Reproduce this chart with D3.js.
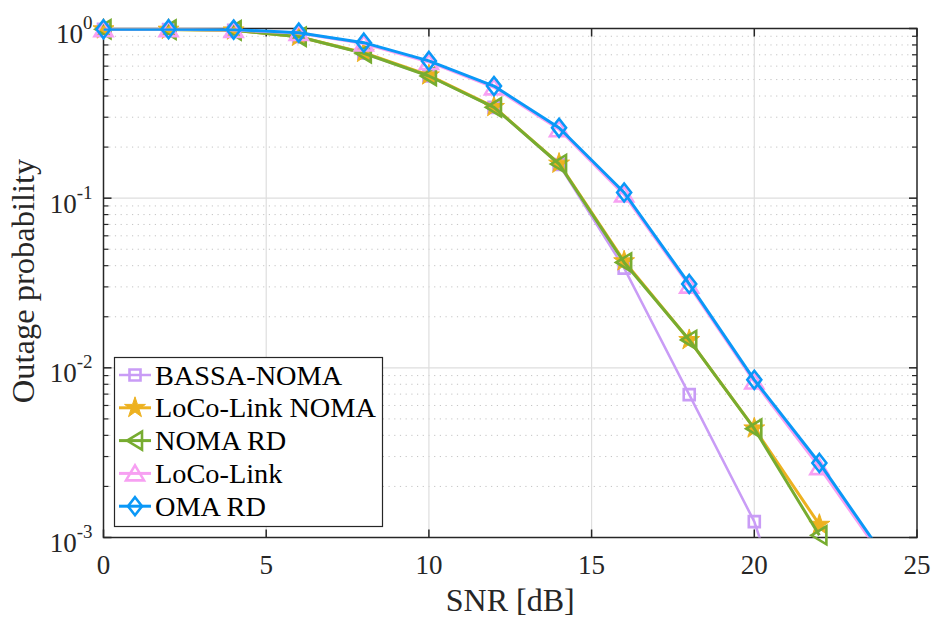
<!DOCTYPE html>
<html><head><meta charset="utf-8">
<script src="https://cdn.jsdelivr.net/npm/d3@7"></script>
<style>body{margin:0;background:#fff}svg{display:block}</style>
</head><body>
<svg id="c" width="933" height="617"></svg>
<script>
const snr = [0,2,4,6,8,10,12,14,16,18,20,22,24];
const bassaNoma   = [0.99,0.985,0.975,0.895,0.715,0.525,0.343,0.158,0.0387,0.00695,0.00124,0.000085,null];
const locoNoma    = [0.99,0.985,0.975,0.895,0.72,0.53,0.345,0.16,0.0425,0.0146,0.0044,0.00119,null];
const nomaRd      = [0.99,0.985,0.975,0.895,0.715,0.525,0.343,0.159,0.0418,0.0146,0.00438,0.00103,null];
const locoLink    = [0.99,0.99,0.98,0.94,0.815,0.635,0.45,0.255,0.105,0.0305,0.0083,0.0026,0.00074];
const omaRd       = [0.99,0.99,0.985,0.945,0.825,0.644,0.458,0.26,0.108,0.0312,0.0085,0.00275,0.00077];
const seriesNames = ["BASSA-NOMA","LoCo-Link NOMA","NOMA RD","LoCo-Link","OMA RD"];
const xTicks = [0,5,10,15,20,25];
const yTicks = [1,0.1,0.01,0.001];
const yTickExp = ["0","-1","-2","-3"];

const colors = ["#c99cf6","#edb120","#77ac30","#f7a0f2","#0a98f7"];
const markers = ["square","star","triLeft","triUp","diamond"];
const widths = [2.5,3,3,3,3];
const allVals = [bassaNoma, locoNoma, nomaRd, locoLink, omaRd];

const svg = d3.select("#c");
const L=103.5, R=917, T=28.5, B=537.5;
const x = d3.scaleLinear().domain([0,25]).range([L,R]);
const y = d3.scaleLog().domain([1e-3,1]).range([B,T]);
const font = "'Liberation Serif', 'Times New Roman', serif";
const axisCol = "#262626";

// grid
const g = svg.append("g");
const minors = [];
for (let e=-3;e<0;e++) for (let k=2;k<=9;k++) minors.push(k*Math.pow(10,e));
g.selectAll(".mg").data(minors).join("line")
  .attr("x1",L).attr("x2",R).attr("y1",d=>y(d)).attr("y2",d=>y(d))
  .attr("stroke","#c4c4c4").attr("stroke-width",1).attr("stroke-dasharray","1.2,4.5");
g.selectAll(".gx").data(xTicks.slice(1,-1)).join("line")
  .attr("x1",d=>x(d)).attr("x2",d=>x(d)).attr("y1",T).attr("y2",B)
  .attr("stroke","#dedede").attr("stroke-width",1.2);
g.selectAll(".gy").data(yTicks.slice(1,-1)).join("line")
  .attr("x1",L).attr("x2",R).attr("y1",d=>y(d)).attr("y2",d=>y(d))
  .attr("stroke","#dedede").attr("stroke-width",1.2);

// axes box and ticks
const ax = svg.append("g").attr("stroke",axisCol).attr("stroke-width",1.5);
ax.append("rect").attr("x",L).attr("y",T).attr("width",R-L).attr("height",B-T).attr("fill","none");
xTicks.forEach(t=>{
  ax.append("line").attr("x1",x(t)).attr("x2",x(t)).attr("y1",B).attr("y2",B-8);
  ax.append("line").attr("x1",x(t)).attr("x2",x(t)).attr("y1",T).attr("y2",T+8);
});
yTicks.forEach(t=>{
  ax.append("line").attr("x1",L).attr("x2",L+8).attr("y1",y(t)).attr("y2",y(t));
  ax.append("line").attr("x1",R).attr("x2",R-8).attr("y1",y(t)).attr("y2",y(t));
});
minors.forEach(t=>{
  ax.append("line").attr("x1",L).attr("x2",L+5).attr("y1",y(t)).attr("y2",y(t)).attr("stroke-width",1.2);
  ax.append("line").attr("x1",R).attr("x2",R-5).attr("y1",y(t)).attr("y2",y(t)).attr("stroke-width",1.2);
});

// tick labels
svg.selectAll(".xt").data(xTicks).join("text")
  .attr("x",d=>x(d)).attr("y",B+36).attr("text-anchor","middle")
  .attr("font-family",font).attr("font-size",27).attr("fill",axisCol).text(d=>d);
yTicks.forEach((t,i)=>{
  const tx = svg.append("text").attr("x",L-11).attr("y",y(t)+14.5).attr("text-anchor","end")
    .attr("font-family",font).attr("font-size",27).attr("fill",axisCol);
  tx.append("tspan").text("10");
  tx.append("tspan").attr("dy",-14).attr("font-size",19).text(yTickExp[i]);
});
svg.append("text").attr("x",(L+R)/2).attr("y",611).attr("text-anchor","middle")
  .attr("font-family",font).attr("font-size",32).attr("fill",axisCol).text("SNR [dB]");
svg.append("text").attr("transform",`translate(34,${(T+B)/2 - 2}) rotate(-90)`).attr("text-anchor","middle")
  .attr("font-family",font).attr("font-size",32.5).attr("fill",axisCol).text("Outage probability");

// marker path
function markerPath(type){
  switch(type){
    case "square": return "M-5.5,-5.5H5.5V5.5H-5.5Z";
    case "diamond": return "M0,-9L7,0L0,9L-7,0Z";
    case "triLeft": return "M-8,0L7,-9L7,9Z";
    case "triUp": return "M0,-8L9,7L-9,7Z";
    case "star": {
      let p=""; for(let i=0;i<10;i++){const r=i%2?4.2:11;const a=-Math.PI/2+i*Math.PI/5;p+=(i?"L":"M")+(r*Math.cos(a)).toFixed(2)+","+(r*Math.sin(a)).toFixed(2);} return p+"Z";
    }
  }
}

// clip
svg.append("defs").append("clipPath").attr("id","clip").append("rect")
  .attr("x",L).attr("y",T).attr("width",R-L).attr("height",B-T);

const line = d3.line().defined(d=>d[1]!=null).x(d=>x(d[0])).y(d=>y(d[1]));
allVals.forEach((vals,si)=>{
  const pts = snr.map((s,i)=>[s,vals[i]]);
  const sg = svg.append("g");
  sg.append("path").attr("d",line(pts)).attr("clip-path","url(#clip)")
    .attr("fill","none").attr("stroke",colors[si]).attr("stroke-width",widths[si]).attr("stroke-linejoin","round");
  sg.selectAll("path.m").data(pts.filter(d=>d[1]!=null && d[1]>=1e-3)).join("path").attr("class","m")
    .attr("transform",d=>`translate(${x(d[0])},${y(d[1])})`)
    .attr("d",markerPath(markers[si]))
    .attr("fill",markers[si]==="star"?colors[si]:"none")
    .attr("stroke",colors[si]).attr("stroke-width",markers[si]==="star"?1:2.6).attr("stroke-linejoin","miter");
});

// legend
const lg = svg.append("g");
lg.append("rect").attr("x",114.5).attr("y",357.5).attr("width",268).attr("height",169)
  .attr("fill","#fff").attr("stroke",axisCol).attr("stroke-width",1.2);
seriesNames.forEach((n,i)=>{
  const cy = 375 + i*32.8;
  lg.append("line").attr("x1",119).attr("x2",151).attr("y1",cy).attr("y2",cy)
    .attr("stroke",colors[i]).attr("stroke-width",widths[i]);
  lg.append("path").attr("transform",`translate(135,${cy})`).attr("d",markerPath(markers[i]))
    .attr("fill",markers[i]==="star"?colors[i]:"none").attr("stroke",colors[i])
    .attr("stroke-width",markers[i]==="star"?1:2.6);
  lg.append("text").attr("x",155).attr("y",cy+9.5).attr("font-family",font).attr("font-size",28.3)
    .attr("fill","#000").text(n);
});
</script>
</body></html>
